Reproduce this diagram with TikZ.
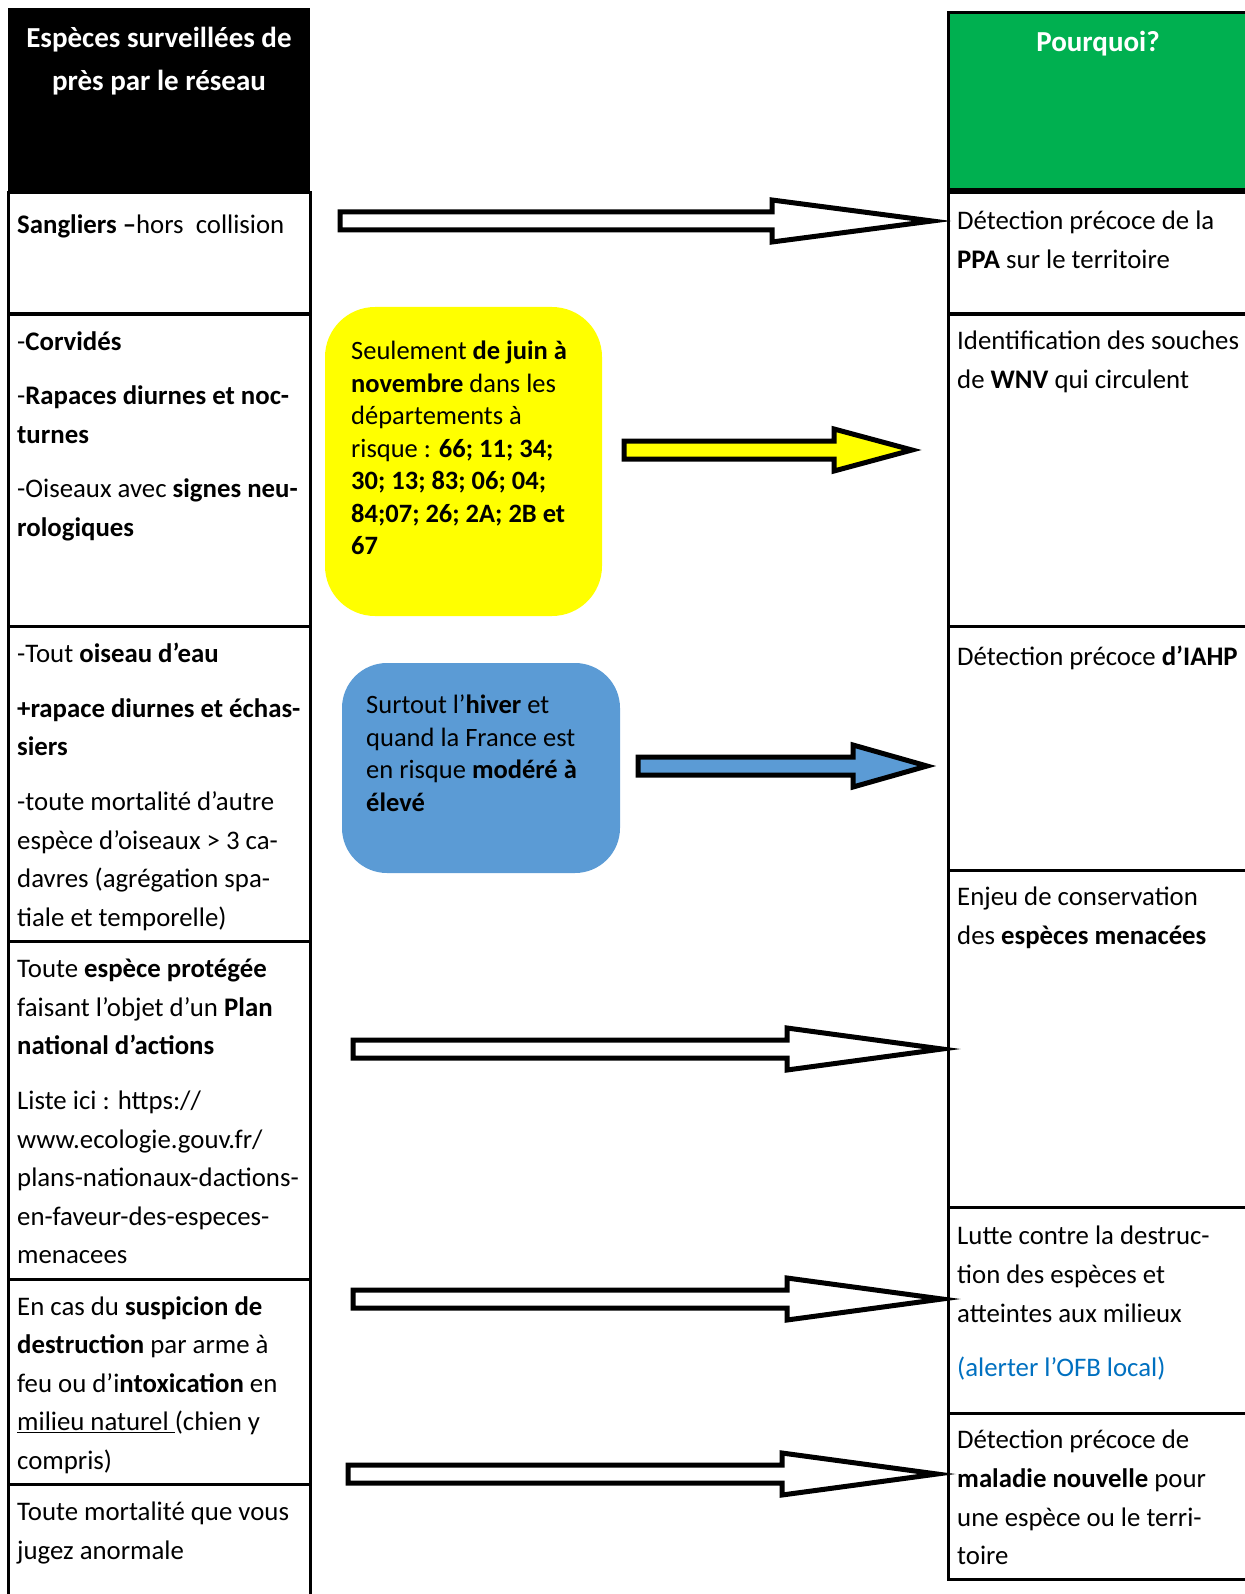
\documentclass[tikz,border=0pt]{standalone}
\usepackage{fontspec}
\setmainfont{Carlito}
\usetikzlibrary{calc}

\definecolor{headgreen}{HTML}{00B050}
\definecolor{boxyellow}{HTML}{FFFF00}
\definecolor{boxblue}{HTML}{5B9BD5}
\definecolor{linkblue}{HTML}{0070C0}

\tikzset{
  grid/.style={draw=black, line width=3pt},
  txt/.style={anchor=north west, inner sep=0pt, align=left,
    font=\fontsize{26.8}{38.6}\selectfont,
    execute at begin node={\rule{0pt}{24pt}}},
  headtxt/.style={anchor=north, inner sep=0pt, align=center, text=white,
    font=\fontsize{29}{43}\selectfont\bfseries,
    execute at begin node={\rule{0pt}{26pt}}},
  boxtxt/.style={txt, font=\fontsize{26.5}{32.5}\selectfont},
  arrowbody/.style={draw=black, line width=5pt, line join=miter},
}

% block arrow: fill, start, tip, head length
\newcommand{\blockarrow}[4]{%
  \draw[arrowbody, fill=#1] let \p1=(#2), \p2=(#3) in
    (\x1,\y1-9pt) -- (\x2-#4pt,\y1-9pt) -- (\x2-#4pt,\y1-21pt) -- (\x2,\y1) --
    (\x2-#4pt,\y1+21pt) -- (\x2-#4pt,\y1+9pt) -- (\x1,\y1+9pt) -- cycle;}

\begin{document}
\begin{tikzpicture}[x=1pt,y=-1pt]
  \useasboundingbox (0,0) rectangle (1244,1594);

  % left column
  \fill[black] (8,8) rectangle (310,193);
  \draw[grid] (8,193) rectangle (310,314);
  \draw[grid] (8,314) rectangle (310,626);
  \draw[grid] (8,626) rectangle (310,941);
  \draw[grid] (8,941) rectangle (310,1279);
  \draw[grid] (8,1279) rectangle (310,1484);
  \draw[grid] (8,1484) rectangle (310,1620);

  % right column
  \draw[grid, fill=headgreen] (948,13) rectangle (1250,190);
  \draw[black, line width=6pt] (948,191) -- (1250,191);
  \draw[grid] (948,193) rectangle (1250,314);
  \draw[grid] (948,314) rectangle (1250,626);
  \draw[grid] (948,626) rectangle (1250,870);
  \draw[grid] (948,870) rectangle (1250,1207);
  \draw[grid] (948,1207) rectangle (1250,1413);
  \draw[grid] (948,1413) rectangle (1250,1579);

  % headers
  \node[headtxt] (lhead) at (159,27) {Espèces surveillées de\\près par le réseau};
  \node[headtxt] (rhead) at (1098,25) {Pourquoi?};

  % left cells
  \node[txt] (l1) at (17,209) {\textbf{Sangliers –}hors\ \ collision};
  \node[txt] (l2) at (17,331) {-\textbf{Corvidés}\\[16pt]
    -\textbf{Rapaces diurnes et noc-}\\\textbf{turnes}\\[16pt]
    -Oiseaux avec \textbf{signes neu-}\\\textbf{rologiques}};
  \node[txt] (l3) at (17,643) {-Tout \textbf{oiseau d’eau}\\[16pt]
    \textbf{+rapace diurnes et échas-}\\\textbf{siers}\\[16pt]
    -toute mortalité d’autre\\espèce d’oiseaux > 3 ca-\\
    davres (agrégation spa-\\tiale et temporelle)};
  \node[txt] (l4) at (17,959) {Toute \textbf{espèce protégée}\\
    faisant l’objet d’un \textbf{Plan}\\\textbf{national d’actions}\\[16pt]
    Liste ici : https://\\www.ecologie.gouv.fr/\\plans-nationaux-dactions-\\
    en-faveur-des-especes-\\menacees};
  \node[txt] (l5) at (17,1296) {En cas du \textbf{suspicion de}\\
    \textbf{destruction} par arme à\\feu ou d’i\textbf{ntoxication} en\\
    \underline{milieu naturel\ }(chien y\\compris)};
  \node[txt] (l6) at (17,1502) {Toute mortalité que vous\\jugez anormale};

  % right cells
  \node[txt] (r1) at (957,211) {Détection précoce de la\\\textbf{PPA} sur le territoire};
  \node[txt] (r2) at (957,331) {Identification des souches\\de \textbf{WNV} qui circulent};
  \node[txt] (r3) at (957,641) {Détection précoce \textbf{d’IAHP}};
  \node[txt] (r4) at (957,887) {Enjeu de conservation\\des \textbf{espèces menacées}};
  \node[txt] (r5) at (957,1226) {Lutte contre la destruc-\\tion des espèces et\\
    atteintes aux milieux\\[16pt]\textcolor{linkblue}{(alerter l’OFB local)}};
  \node[txt] (r6) at (957,1430) {Détection précoce de\\\textbf{maladie nouvelle} pour\\
    une espèce ou le terri-\\toire};

  % seasonal boxes
  \node[fill=boxyellow, rounded corners=50pt, minimum width=277pt, minimum height=309pt]
    (yel) at (463.5,461.5) {};
  \node[boxtxt] (yeltxt) at (351,341) {Seulement \textbf{de juin à}\\
    \textbf{novembre} dans les\\départements à\\risque : \textbf{66; 11; 34;}\\
    \textbf{30; 13; 83; 06; 04;}\\\textbf{84;07; 26; 2A; 2B et}\\\textbf{67}};
  \node[fill=boxblue, rounded corners=45pt, minimum width=278pt, minimum height=210pt]
    (blu) at (481,768) {};
  \node[boxtxt] (blutxt) at (366,695) {Surtout l’\textbf{hiver} et\\
    quand la France est\\en risque \textbf{modéré à}\\\textbf{élevé}};

  % arrow ends
  \coordinate (a1s) at (340,221);
  \coordinate (a1t) at (932,221);
  \coordinate (a2s) at (624,450);
  \coordinate (a2t) at (912,450);
  \coordinate (a3s) at (638,766);
  \coordinate (a3t) at (927,766);
  \coordinate (a4s) at (353,1049);
  \coordinate (a4t) at (942,1049);
  \coordinate (a5s) at (353,1299);
  \coordinate (a5t) at (942,1299);
  \coordinate (a6s) at (348,1474);
  \coordinate (a6t) at (937,1474);

  \blockarrow{white}{a1s}{a1t}{160}
  \blockarrow{boxyellow}{a2s}{a2t}{78}
  \blockarrow{boxblue}{a3s}{a3t}{74}
  \blockarrow{white}{a4s}{a4t}{155}
  \blockarrow{white}{a5s}{a5t}{155}
  \blockarrow{white}{a6s}{a6t}{155}
\end{tikzpicture}
\end{document}
